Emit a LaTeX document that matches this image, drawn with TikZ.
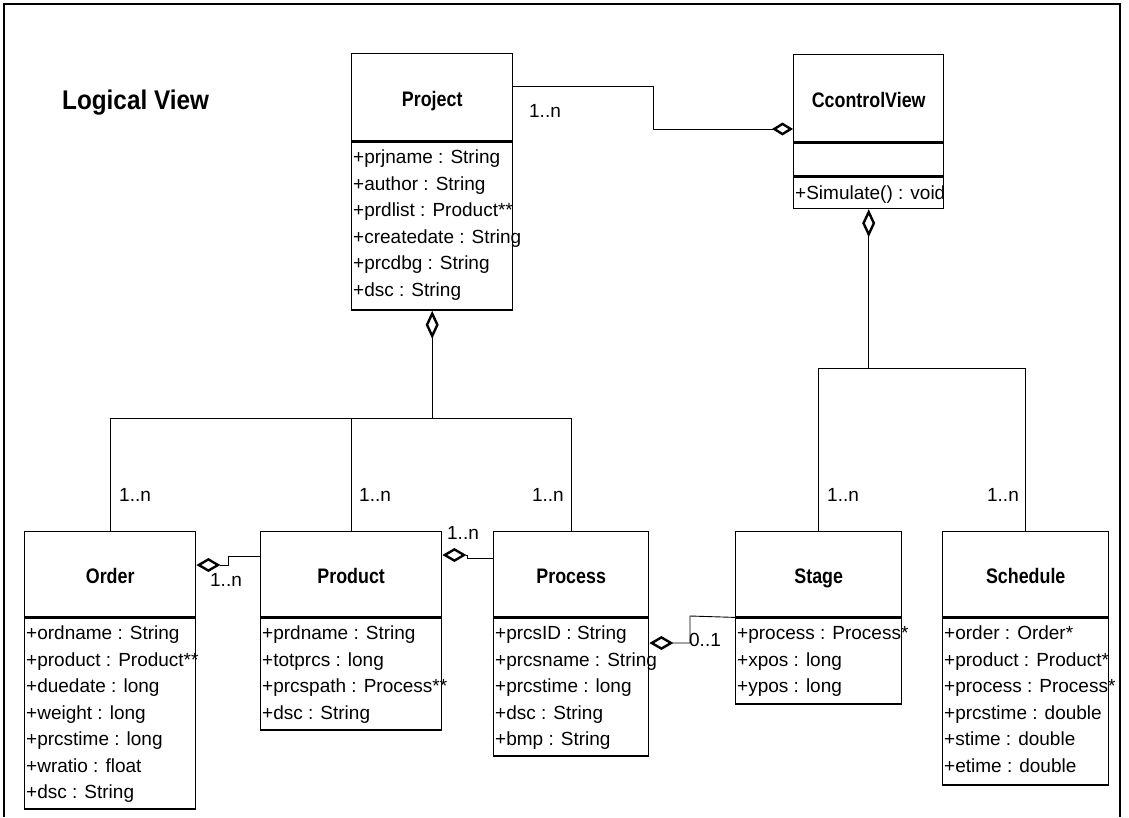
\documentclass[tikz,border=0pt]{standalone}
\usepackage{fontspec}
\setmainfont{Liberation Sans}
\newfontfamily\headfont[FakeStretch=0.85]{Liberation Sans}
\newfontfamily\viewfont[FakeStretch=0.9]{Liberation Sans}
\usetikzlibrary{arrows.meta,calc}

\tikzset{
  classhead/.style={draw, line width=1.4pt, anchor=north west, inner sep=0pt,
    text height=18pt, text depth=0pt,
    font=\headfont\bfseries\fontsize{21}{24}\selectfont},
  classbody/.style={draw, line width=1.4pt, anchor=north west, inner sep=0pt},
  attr/.style={anchor=base west, inner sep=0pt, font=\fontsize{19}{23}\selectfont},
  mult/.style={inner sep=0pt, font=\fontsize{19}{23}\selectfont},
  link/.style={line width=0.9pt},
  agg/.style={link, -{Diamond[open, length=24pt, width=14pt, line width=2.4pt 0]}},
  aggsmall/.style={link, -{Diamond[open, length=21pt, width=13pt, line width=2.4pt 0]}},
  aggv/.style={link, -{Diamond[open, length=28pt, width=13pt, line width=2.4pt 0]}},
}

% #1 name, #2 left, #3 top, #4 width, #5 head height, #6 body height, #7 title, #8 attributes
\newcommand{\umlclass}[8]{%
  \node[classhead, minimum width=#4, minimum height=#5] (#1-t) at (#2,-#3) {#7};
  \node[classbody, minimum width=#4, minimum height=#6] (#1-b) at (#1-t.south west) {};
  \foreach \a [count=\i] in {#8}
    \node[attr] (#1-a\i) at ($(#1-b.north west)+(2,-22.5-26.5*\i+26.5)$) {\a};
}

\begin{document}
\begin{tikzpicture}[x=1pt,y=1pt]
\useasboundingbox (0,0) rectangle (1129,-817);

% outer frame
\draw[line width=1.4pt] (4,-817) -- (4,-4) -- (1120,-4) -- (1120,-817);

\node[font=\viewfont\bfseries\fontsize{27}{30}\selectfont, anchor=west, inner sep=0pt]
  (viewtitle) at (62,-103) {Logical View};

% classes
\umlclass{proj}{351}{53}{161}{87}{168}{Project}
  {+prjname : String, +author : String, +prdlist : Product**, +createdate : String, +prcdbg : String, +dsc : String}

\node[classhead, minimum width=150, minimum height=87] (ccv-t) at (793,-54) {CcontrolView};
\node[classbody, minimum width=150, minimum height=33] (ccv-e) at (ccv-t.south west) {};
\node[classbody, minimum width=150, minimum height=31] (ccv-m) at (ccv-e.south west) {};
\node[attr] (ccv-a1) at ($(ccv-m.north west)+(2,-22.5)$) {+Simulate() : void};

\umlclass{order}{24}{531}{171}{85}{191}{Order}
  {+ordname : String, +product : Product**, +duedate : long, +weight : long, +prcstime : long, +wratio : float, +dsc : String}
\umlclass{prod}{260}{531}{181}{85}{112}{Product}
  {+prdname : String, +totprcs : long, +prcspath : Process**, +dsc : String}
\umlclass{proc}{493}{531}{155}{85}{138}{Process}
  {+prcsID : String, +prcsname : String, +prcstime : long, +dsc : String, +bmp : String}
\umlclass{stage}{735}{531}{166}{85}{86}{Stage}
  {+process : Process*, +xpos : long, +ypos : long}
\umlclass{sched}{942}{531}{166}{85}{167}{Schedule}
  {+order : Order*, +product : Product*, +process : Process*, +prcstime : double, +stime : double, +etime : double}

% Project aggregates orders, products and processes
\draw[link] (order-t.north) |- (proc-t.north |- 0,-418) -- (proc-t.north);
\draw[link] (prod-t.north) -- (prod-t.north |- 0,-418);
\draw[aggv] (proj-b.south |- 0,-418) -- (proj-b.south);

% CcontrolView aggregates stages and schedules
\draw[link] (stage-t.north) |- (sched-t.north |- 0,-368) -- (sched-t.north);
\draw[aggv] (ccv-m.south |- 0,-368) -- (ccv-m.south);

% Project -- CcontrolView
\draw[aggsmall] (proj-t.east |- 0,-86) -| (653,-129) -- (ccv-t.west |- 0,-129);

% side aggregations
\draw[agg] (prod-t.west |- 0,-556) -- (228,-556) |- (order-t.east |- 0,-565);
\draw[agg] (proc-t.west |- 0,-558) -- (467,-558) |- (prod-t.east |- 0,-555);
\draw[agg] (stage-b.north west) -- (690,-616) |- (proc-b.east |- 0,-643);

% multiplicities
\node[mult] (m1) at (545,-111) {1..n};
\node[mult] (m2) at (226,-580) {1..n};
\node[mult] (m3) at (463,-533) {1..n};
\node[mult] (m4) at (705,-640) {0..1};
\node[mult, anchor=west] (m5) at (119,-495) {1..n};
\node[mult, anchor=west] (m6) at (359,-495) {1..n};
\node[mult, anchor=east] (m7) at (564,-495) {1..n};
\node[mult, anchor=west] (m8) at (827,-495) {1..n};
\node[mult, anchor=east] (m9) at (1019,-495) {1..n};
\end{tikzpicture}
\end{document}
